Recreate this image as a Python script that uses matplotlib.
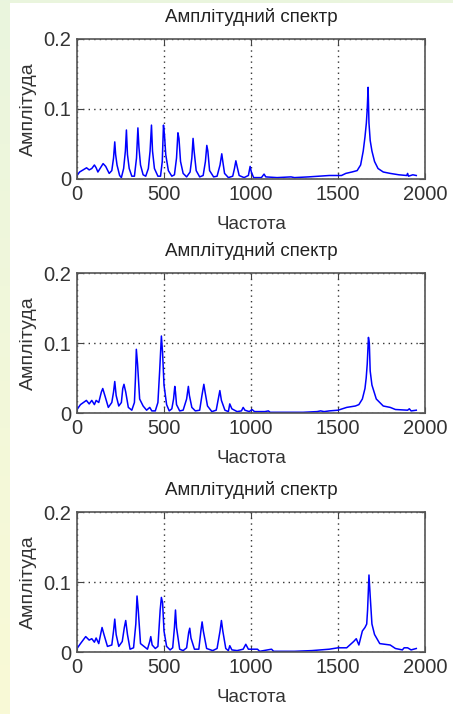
import numpy as np
import matplotlib
matplotlib.use('Agg')
import matplotlib.pyplot as plt
from matplotlib.patches import Rectangle

plt.rcParams['font.family'] = ['Liberation Sans', 'DejaVu Sans']

title = 'Амплітудний спектр'
xlab = 'Частота'
ylab = 'Амплітуда'
xticks = [0, 500, 1000, 1500, 2000]
yticks = [0, 0.1, 0.2]
yticklabels = ['0', '0.1', '0.2']

# spectrum 1
f1 = [0, 15, 35, 55, 70, 85, 100, 110, 120, 135, 150, 165, 185, 200, 210, 217, 222, 230, 245, 255,
      268, 278, 284, 290, 300, 315, 330, 342, 350, 356, 365, 380, 395, 410, 420, 428, 434, 445, 465, 480,
      490, 497, 503, 510, 525, 545, 560, 572, 580, 586, 595, 610, 630, 650, 660, 667, 673, 685, 705, 725,
      738, 746, 752, 762, 785, 805, 822, 832, 838, 848, 870, 895, 905, 913, 920, 932, 960, 985, 995, 1002,
      1015, 1060, 1075, 1085, 1150, 1230, 1250, 1330, 1390, 1450, 1520, 1545, 1580, 1610, 1630, 1645, 1655, 1663, 1668, 1673,
      1678, 1685, 1695, 1710, 1730, 1760, 1800, 1850, 1895, 1900, 1905, 1930, 1950]
a1 = [0.005, 0.010, 0.013, 0.016, 0.013, 0.015, 0.020, 0.016, 0.010, 0.016, 0.022, 0.018, 0.008, 0.012, 0.030, 0.053, 0.035, 0.020, 0.005, 0.002,
      0.015, 0.040, 0.070, 0.035, 0.015, 0.004, 0.004, 0.030, 0.073, 0.045, 0.020, 0.006, 0.004, 0.015, 0.040, 0.077, 0.040, 0.015, 0.004, 0.004,
      0.025, 0.077, 0.062, 0.035, 0.012, 0.004, 0.006, 0.030, 0.066, 0.058, 0.025, 0.008, 0.003, 0.010, 0.030, 0.058, 0.040, 0.012, 0.003, 0.005,
      0.025, 0.048, 0.040, 0.012, 0.003, 0.004, 0.020, 0.036, 0.025, 0.008, 0.002, 0.004, 0.015, 0.026, 0.018, 0.005, 0.002, 0.005, 0.018, 0.010,
      0.002, 0.002, 0.007, 0.003, 0.002, 0.003, 0.002, 0.003, 0.004, 0.005, 0.005, 0.008, 0.010, 0.012, 0.020, 0.040, 0.060, 0.080, 0.100, 0.131,
      0.080, 0.055, 0.040, 0.025, 0.015, 0.010, 0.008, 0.006, 0.005, 0.008, 0.004, 0.006, 0.005]

# spectrum 2
f2 = [0, 20, 54, 70, 85, 100, 110, 125, 140, 148, 160, 180, 200, 210, 217, 225, 240, 255, 263, 270,
      280, 295, 315, 330, 336, 341, 348, 360, 380, 400, 418, 430, 450, 465, 475, 480, 485, 492, 500, 515,
      530, 545, 555, 562, 566, 572, 590, 610, 630, 640, 646, 660, 680, 705, 718, 729, 736, 750, 775, 800,
      812, 821, 830, 850, 870, 878, 890, 920, 945, 955, 965, 990, 1006, 1020, 1080, 1100, 1110, 1200, 1300, 1380,
      1400, 1420, 1450, 1500, 1550, 1600, 1620, 1640, 1655, 1662, 1668, 1675, 1680, 1685, 1695, 1720, 1760, 1800, 1830, 1900,
      1910, 1920, 1950]
a2 = [0.005, 0.012, 0.018, 0.013, 0.018, 0.012, 0.018, 0.015, 0.030, 0.035, 0.025, 0.008, 0.015, 0.030, 0.045, 0.025, 0.010, 0.015, 0.035, 0.041,
      0.030, 0.008, 0.004, 0.015, 0.050, 0.091, 0.070, 0.020, 0.010, 0.004, 0.008, 0.003, 0.003, 0.015, 0.060, 0.085, 0.110, 0.085, 0.040, 0.012,
      0.003, 0.006, 0.020, 0.038, 0.030, 0.012, 0.003, 0.004, 0.020, 0.038, 0.025, 0.008, 0.003, 0.004, 0.025, 0.041, 0.030, 0.010, 0.002, 0.004,
      0.020, 0.032, 0.018, 0.004, 0.002, 0.013, 0.006, 0.002, 0.003, 0.008, 0.004, 0.002, 0.005, 0.002, 0.002, 0.003, 0.001, 0.001, 0.001, 0.002,
      0.003, 0.002, 0.003, 0.004, 0.008, 0.010, 0.012, 0.020, 0.035, 0.050, 0.070, 0.108, 0.100, 0.060, 0.040, 0.020, 0.010, 0.008, 0.005, 0.004,
      0.006, 0.003, 0.004]

# spectrum 3
f3 = [0, 20, 50, 70, 85, 100, 110, 125, 138, 144, 155, 175, 200, 210, 217, 225, 240, 260, 272, 280,
      290, 305, 325, 338, 345, 352, 365, 385, 405, 418, 424, 432, 450, 465, 478, 485, 492, 500, 515, 535,
      550, 560, 566, 572, 590, 610, 630, 642, 648, 655, 675, 700, 712, 719, 726, 745, 780, 805, 822, 830,
      838, 855, 870, 878, 890, 920, 955, 970, 985, 1037, 1050, 1118, 1130, 1250, 1350, 1450, 1500, 1550, 1590, 1605,
      1620, 1640, 1655, 1665, 1670, 1678, 1685, 1695, 1710, 1740, 1800, 1830, 1870, 1880, 1900, 1920, 1950]
a3 = [0.005, 0.012, 0.022, 0.017, 0.019, 0.014, 0.020, 0.012, 0.028, 0.035, 0.025, 0.008, 0.010, 0.030, 0.047, 0.025, 0.008, 0.015, 0.035, 0.045,
      0.025, 0.004, 0.006, 0.040, 0.080, 0.060, 0.012, 0.008, 0.004, 0.015, 0.022, 0.010, 0.005, 0.008, 0.060, 0.078, 0.070, 0.030, 0.008, 0.003,
      0.006, 0.035, 0.060, 0.035, 0.004, 0.002, 0.006, 0.028, 0.034, 0.020, 0.004, 0.004, 0.030, 0.043, 0.030, 0.005, 0.002, 0.005, 0.030, 0.045,
      0.030, 0.005, 0.002, 0.009, 0.003, 0.002, 0.004, 0.011, 0.004, 0.004, 0.001, 0.004, 0.001, 0.001, 0.002, 0.004, 0.006, 0.006, 0.015, 0.019,
      0.010, 0.030, 0.035, 0.040, 0.060, 0.110, 0.080, 0.040, 0.025, 0.012, 0.010, 0.005, 0.003, 0.006, 0.006, 0.003, 0.005]

series = [(f1, a1), (f2, a2), (f3, a3)]

W, H = 453, 714
fig = plt.figure(figsize=(W / 100, H / 100), dpi=100)

# pale slide background strip on the left / top
bg = fig.add_axes([0, 0, 1, 1], zorder=-10)
grad = np.linspace(0, 1, 256)[:, None]
top_c = np.array([234, 245, 222]) / 255
bot_c = np.array([249, 250, 214]) / 255
img = top_c * (1 - grad[..., None]) + bot_c * grad[..., None]
bg.imshow(img, aspect='auto', extent=[0, 1, 0, 1])
bg.add_patch(Rectangle((10 / W, 0), 1, 1 - 3 / H, facecolor='white', edgecolor='none'))
bg.set_xlim(0, 1)
bg.set_ylim(0, 1)
bg.axis('off')

left = 77 / W
width = (425 - 77) / W
height = 140 / H
bottoms = [179, 413, 652]

for (f, a), b in zip(series, bottoms):
    ax = fig.add_axes([left, 1 - b / H, width, height])
    ax.plot(f, a, color='#0000ff', lw=1.1)
    ax.set_xlim(0, 2000)
    ax.set_ylim(0, 0.2)
    ax.set_xticks(xticks)
    ax.set_yticks(yticks)
    ax.set_yticklabels(yticklabels)
    ax.grid(True, color='#333333', linestyle=(0, (1, 3)), lw=1.0)
    ax.tick_params(direction='in', length=4, width=0.8, colors='#444444', labelsize=14.5,
                   top=True, right=True, pad=4)
    ax.tick_params(labelcolor='#333333')
    for s in ax.spines.values():
        s.set_color('#555555')
        s.set_linewidth(1.2)
    ax.set_title(title, fontsize=13.5, color='#222222', pad=12)
    ax.set_xlabel(xlab, fontsize=13.5, color='#333333', labelpad=9)
    ax.set_ylabel(ylab, fontsize=14, color='#333333', labelpad=5)

fig.savefig('out.png', dpi=100)
